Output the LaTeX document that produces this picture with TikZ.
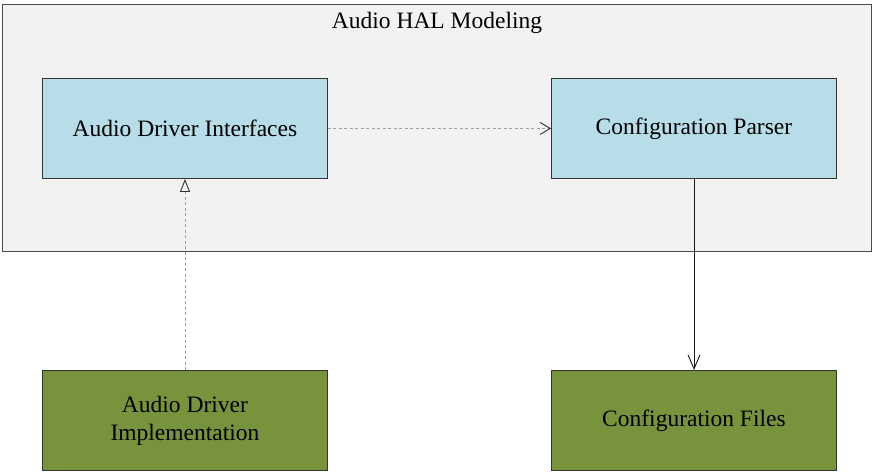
\documentclass[tikz,border=0pt]{standalone}
\usepackage{fontspec}
\setmainfont{Liberation Serif}
\usetikzlibrary{arrows.meta}
\definecolor{outerfill}{HTML}{F2F2F2}
\definecolor{bluefill}{HTML}{B7DDE8}
\definecolor{greenfill}{HTML}{77933C}
\definecolor{dashgray}{HTML}{A0A0A0}
\tikzset{bigfont/.style={font=\fontsize{23.5}{28}\selectfont}}
\begin{document}
\begin{tikzpicture}[x=1pt,y=-1pt,
  box/.style={draw=black!80, line width=0.9pt, minimum width=285pt, minimum height=100pt, anchor=north west, inner sep=0pt, align=center, bigfont},
  bluebox/.style={box, fill=bluefill},
  greenbox/.style={box, fill=greenfill},
  dep/.style={draw=dashgray, dash pattern=on 3pt off 2.5pt, line width=0.7pt},
]
\useasboundingbox (0,0) rectangle (873,474);
\node[draw=black!70, line width=0.9pt, fill=outerfill, minimum width=869pt, minimum height=247pt, anchor=north west, inner sep=0pt] (outer) at (2,4) {};
\node[bigfont, anchor=north] (title) at (437,9) {Audio HAL Modeling};
\node[bluebox] (adi) at (42,78) {};
\node[bigfont] (adit) at (adi.center) {Audio Driver Interfaces};
\node[bluebox] (cp) at (551,78) {};
\node[bigfont] (cpt) at (cp.center) {Configuration Parser};
\node[greenbox] (adimp) at (42,370) {Audio Driver\\Implementation};
\node[greenbox] (cf) at (551,370) {Configuration Files};
\draw[dep, -{Straight Barb[length=10pt,width=12pt,line width=0.9pt,color=black!80]}] (adi.east) -- (cp.west);
\draw[dep, -{Triangle[open,length=13pt,width=10pt,line width=0.9pt,color=black!80]}] (adimp.north -| 185,0) -- (adi.south -| 185,0);
\draw[line width=0.9pt, black!90, -{Straight Barb[length=14pt,width=12pt,line width=0.9pt]}] (cp.south -| 694,0) -- (cf.north -| 694,0);
\end{tikzpicture}
\end{document}
